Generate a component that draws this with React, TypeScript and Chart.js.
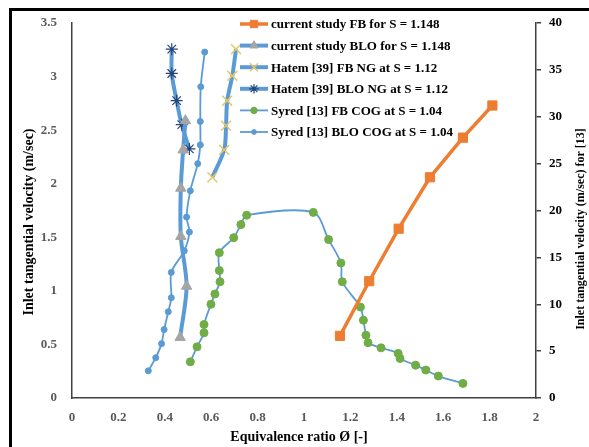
import { useEffect, useRef } from "react";
import { Chart, registerables } from "chart.js";
import { drawPoint } from "chart.js/helpers";

Chart.register(...registerables);

// ---- data ----
const currentFbPhi = [1.155, 1.281, 1.408, 1.543, 1.685, 1.812];
const currentFbVel = [0.58, 1.09, 1.58, 2.06, 2.43, 2.73];

const currentBloPhi = [0.466, 0.494, 0.469, 0.469, 0.479, 0.489];
const currentBloVel = [0.565, 1.043, 1.508, 1.958, 2.315, 2.588];

const hatemFbPhi = [0.605, 0.656, 0.664, 0.669, 0.691, 0.707];
const hatemFbVel = [2.06, 2.316, 2.542, 2.775, 3.007, 3.256];

const hatemBloPhi = [0.43, 0.43, 0.451, 0.473, 0.506];
const hatemBloVel = [3.256, 3.029, 2.775, 2.551, 2.325];

const syredFbPhi = [
  0.51, 0.539, 0.569, 0.569, 0.599, 0.616, 0.638, 0.635, 0.635, 0.697, 0.728, 0.753, 1.04, 1.106,
  1.159, 1.165, 1.243, 1.256, 1.267, 1.276, 1.332, 1.406, 1.414, 1.481, 1.525, 1.579, 1.685,
];
const syredFbVel = [
  3.86, 5.46, 6.95, 7.84, 10.0, 11.1, 12.4, 13.6, 15.5, 17.1, 18.5, 19.5, 19.8, 16.9, 14.4, 12.4, 9.7,
  8.3, 6.7, 5.9, 5.35, 4.76, 4.22, 3.5, 2.98, 2.34, 1.56,
];

const syredBloPhi = [
  0.329, 0.361, 0.386, 0.397, 0.415, 0.428, 0.428, 0.484, 0.506, 0.494, 0.51, 0.542, 0.553, 0.553,
  0.555, 0.572,
];
const syredBloVel = [
  2.9, 4.3, 5.8, 7.3, 9.2, 10.7, 13.4, 15.7, 17.7, 19.3, 22.1, 25.0, 27.0, 29.5, 33.2, 36.9,
];

const seriesLabels = [
  "current study FB for S = 1.148",
  "current study BLO for S = 1.148",
  "Hatem [39] FB NG at S = 1.12",
  "Hatem [39] BLO NG at S = 1.12",
  "Syred [13] FB COG at S = 1.04",
  "Syred [13] BLO COG at S = 1.04",
];

const xTitle = "Equivalence ratio Ø [-]";
const yTitle = "Inlet tangential velocity (m/sec)";
const y1Title = "Inlet tangential velocity (m/sec) for [13]";

const FONT = '"Liberation Serif", "Times New Roman", serif';
const BLUE = "#5B9BD5";

const pts = (xs: number[], ys: number[]) => xs.map((x, i) => ({ x, y: ys[i] }));
const fmt = (v: any) => String(Math.round(Number(v) * 100) / 100);

const framePlugin = {
  id: "frame",
  beforeDraw(chart: any) {
    const ctx = chart.ctx;
    ctx.save();
    ctx.fillStyle = "#fff";
    ctx.fillRect(0, 0, chart.width, chart.height);
    ctx.fillStyle = "#000";
    ctx.fillRect(9, 8, chart.width - 9, 3);
    ctx.fillRect(9, 8, 3, chart.height - 8);
    ctx.restore();
  },
};

const legendPlugin = {
  id: "customLegend",
  afterDraw(chart: any) {
    const ctx = chart.ctx;
    ctx.save();
    const top = 24;
    const step = 21.6;
    chart.data.datasets.forEach((ds: any, i: number) => {
      const y = top + i * step;
      ctx.strokeStyle = ds.borderColor;
      ctx.lineWidth = ds.borderWidth;
      ctx.beginPath();
      ctx.moveTo(240, y);
      ctx.lineTo(268, y);
      ctx.stroke();
      ctx.fillStyle = ds.pointBackgroundColor;
      ctx.strokeStyle = ds.pointBorderColor;
      ctx.lineWidth = ds.pointBorderWidth;
      drawPoint(ctx, { pointStyle: ds.pointStyle, radius: ds.pointRadius * 0.8, rotation: 0, borderWidth: ds.pointBorderWidth }, 254, y);
      ctx.fillStyle = "#000";
      ctx.font = `bold 13px ${FONT}`;
      ctx.textBaseline = "middle";
      ctx.textAlign = "left";
      ctx.fillText(ds.label, 271, y + 1);
    });
    // axis titles
    ctx.fillStyle = "#000";
    ctx.font = `bold 14px ${FONT}`;
    ctx.textAlign = "center";
    ctx.textBaseline = "middle";
    ctx.fillText(xTitle, 299, 437);
    ctx.save();
    ctx.translate(29, 222);
    ctx.rotate(-Math.PI / 2);
    ctx.fillText(yTitle, 0, 0);
    ctx.restore();
    ctx.save();
    ctx.font = `bold 12px ${FONT}`;
    ctx.translate(581, 229);
    ctx.rotate(-Math.PI / 2);
    ctx.fillText(y1Title, 0, 0);
    ctx.restore();
    ctx.restore();
  },
};

export default function App() {
  const canvasRef = useRef<HTMLCanvasElement | null>(null);

  useEffect(() => {
    document.body.style.margin = "0";
    const canvas = canvasRef.current;
    if (!canvas) return;
    const tickFont = { family: FONT, size: 13, weight: "bold" as const };
    const chart = new Chart(canvas, {
      type: "line",
      data: {
        datasets: [
          {
            label: seriesLabels[0],
            data: pts(currentFbPhi, currentFbVel),
            yAxisID: "y",
            borderColor: "#ED7D31",
            borderWidth: 3.5,
            pointStyle: "rect",
            pointRadius: 6.5,
            pointBackgroundColor: "#ED7D31",
            pointBorderColor: "#ED7D31",
            pointBorderWidth: 1,
            tension: 0,
          },
          {
            label: seriesLabels[1],
            data: pts(currentBloPhi, currentBloVel),
            yAxisID: "y",
            borderColor: BLUE,
            borderWidth: 4,
            pointStyle: "triangle",
            pointRadius: 6,
            pointBackgroundColor: "#A5A5A5",
            pointBorderColor: "#A5A5A5",
            pointBorderWidth: 1,
            tension: 0.3,
          },
          {
            label: seriesLabels[2],
            data: pts(hatemFbPhi, hatemFbVel),
            yAxisID: "y",
            borderColor: BLUE,
            borderWidth: 4,
            pointStyle: "crossRot",
            pointRadius: 7,
            pointBackgroundColor: "#E5C76B",
            pointBorderColor: "#E5C76B",
            pointBorderWidth: 1.5,
            tension: 0.3,
          },
          {
            label: seriesLabels[3],
            data: pts(hatemBloPhi, hatemBloVel),
            yAxisID: "y",
            borderColor: BLUE,
            borderWidth: 4,
            pointStyle: "star",
            pointRadius: 6,
            pointBackgroundColor: "#264478",
            pointBorderColor: "#264478",
            pointBorderWidth: 1.2,
            tension: 0.3,
          },
          {
            label: seriesLabels[4],
            data: pts(syredFbPhi, syredFbVel),
            yAxisID: "y1",
            borderColor: BLUE,
            borderWidth: 1.8,
            pointStyle: "circle",
            pointRadius: 4,
            pointBackgroundColor: "#70AD47",
            pointBorderColor: "#70AD47",
            pointBorderWidth: 1,
            tension: 0.3,
          },
          {
            label: seriesLabels[5],
            data: pts(syredBloPhi, syredBloVel),
            yAxisID: "y1",
            borderColor: BLUE,
            borderWidth: 1.8,
            pointStyle: "circle",
            pointRadius: 3,
            pointBackgroundColor: BLUE,
            pointBorderColor: BLUE,
            pointBorderWidth: 1,
            tension: 0.3,
          },
        ],
      },
      options: {
        responsive: false,
        animation: false,
        devicePixelRatio: 1,
        layout: { padding: { top: 23, left: 0, right: 0, bottom: 0 } },
        plugins: { legend: { display: false }, tooltip: { enabled: false } },
        scales: {
          x: {
            type: "linear",
            min: 0,
            max: 2,
            ticks: { stepSize: 0.2, font: tickFont, color: "#595959", padding: 12, callback: fmt },
            grid: { display: false, drawTicks: false },
            border: { display: true, color: "#404040", width: 1.5 },
            afterFit: (s: any) => {
              s.height = 49;
            },
          },
          y: {
            type: "linear",
            position: "left",
            min: 0,
            max: 3.5,
            ticks: { stepSize: 0.5, font: tickFont, color: "#595959", padding: 15, callback: fmt },
            grid: { display: false, drawTicks: false },
            border: { display: true, color: "#404040", width: 1.5 },
            afterFit: (s: any) => {
              s.width = 72;
            },
          },
          y1: {
            type: "linear",
            position: "right",
            min: 0,
            max: 40,
            ticks: { stepSize: 5, font: tickFont, color: "#000", padding: 8, callback: fmt },
            grid: { display: true, drawOnChartArea: false, drawTicks: true, tickLength: 5, color: "#404040", lineWidth: 1.5 },
            border: { display: true, color: "#404040", width: 1.5 },
            afterFit: (s: any) => {
              s.width = 53;
            },
          },
        },
      },
      plugins: [framePlugin, legendPlugin],
    } as any);
    return () => chart.destroy();
  }, []);

  return (
    <div style={{ width: 589, height: 447 }}>
      <canvas ref={canvasRef} width={589} height={447} />
    </div>
  );
}
